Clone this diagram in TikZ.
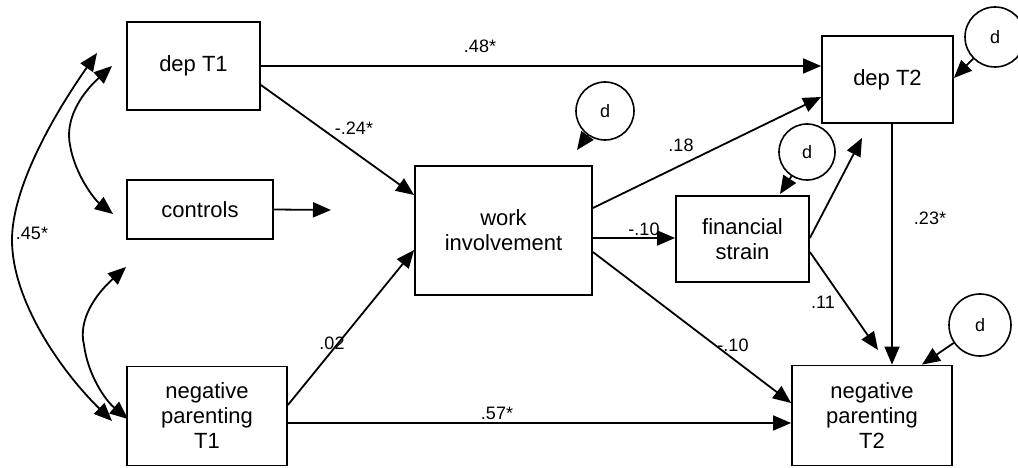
\documentclass[tikz,border=0pt]{standalone}
\usepackage{fontspec}
\setmainfont{Liberation Sans}
\usetikzlibrary{arrows.meta,calc}
\begin{document}
\begin{tikzpicture}[x=1pt,y=-1pt,
  box/.style={draw,line width=1.8pt,inner sep=0pt,align=center,
    font=\fontsize{22}{25}\selectfont},
  dcirc/.style={draw,circle,line width=1.6pt,inner sep=0pt,
    font=\fontsize{18}{18}\selectfont},
  lab/.style={font=\fontsize{18}{20}\selectfont,inner sep=0pt},
  arr/.style={line width=1.8pt,-{Triangle[length=18pt,width=15pt]}},
  darr/.style={line width=1.8pt,{Triangle[length=18pt,width=15pt]}-{Triangle[length=18pt,width=15pt]}}
]
\useasboundingbox (0,0) rectangle (1018,468);
% boxes
\node[box,minimum width=133pt,minimum height=88pt] (depT1) at (193.5,66) {dep T1};
\node[box,minimum width=146pt,minimum height=59pt] (controls) at (200,209.5) {controls};
\node[box,minimum width=160pt,minimum height=99pt] (negT1) at (207,416) {negative\\parenting\\T1};
\node[box,minimum width=177pt,minimum height=129pt] (work) at (503.5,230.5) {work\\involvement};
\node[box,minimum width=133pt,minimum height=86pt] (fin) at (742.5,239) {financial\\strain};
\node[box,minimum width=131pt,minimum height=87pt] (depT2) at (887.5,79.5) {dep T2};
\node[box,minimum width=160pt,minimum height=100pt] (negT2) at (872,415.5) {negative\\parenting\\T2};
% disturbance circles
\node[dcirc,minimum size=58pt] (dW) at (605,111) {d};
\node[dcirc,minimum size=56pt] (dF) at (807,152) {d};
\node[dcirc,minimum size=60pt] (dD) at (995,37) {d};
\node[dcirc,minimum size=62pt] (dN) at (980,325) {d};
% free ends
\coordinate (cw) at (577,150);
\coordinate (cf) at (780,194);
\coordinate (cctl) at (331,210);
\coordinate (fd) at (862,138);
\coordinate (fn) at (878,350);
\coordinate (a1) at (97,53);
\coordinate (a2) at (112,421);
\coordinate (b1) at (112,66);
\coordinate (b2) at (113,214);
\coordinate (c1) at (126,267);
\coordinate (c2) at (128,419);
% paths
\draw[arr] (depT1.east) -- (depT1.east -| depT2.west);
\draw[arr] ($(depT1.east)+(0,19)$) -- ($(work.west)+(0,-35.5)$);
\draw[arr] (controls.east) -- (cctl);
\draw[arr] ($(negT1.east)+(0,-11)$) -- ($(work.west)+(0,19.5)$);
\draw[arr] ($(negT1.east)+(0,7)$) coordinate (n1) -- (n1 -| negT2.west);
\draw[arr] ($(work.east)+(0,-22.5)$) -- ($(depT2.west)+(0,17.5)$);
\draw[arr] ($(work.east)+(0,7.5)$) coordinate (w1) -- (w1 -| fin.west);
\draw[arr] ($(work.east)+(0,21.5)$) -- ($(negT2.west)+(0,-12.5)$);
\draw[arr] ($(fin.east)+(0,-1)$) -- (fd);
\draw[arr] ($(fin.east)+(0,13)$) -- (fn);
\draw[arr] ($(depT2.south)+(4.5,0)$) coordinate (dt) -- (dt |- negT2.north);
\draw[arr] (dW) -- (cw);
\draw[arr] (dF) -- (cf);
\draw[arr] (dD) -- ($(depT2.east)+(0,-1.5)$);
\draw[arr] (dN) -- ($(negT2.north)+(50,0)$);
% covariances
\draw[darr] (a1) .. controls (50,120) and (12,190) .. (12,240) .. controls (12,300) and (60,370) .. (a2);
\draw[darr] (b1) .. controls (80,95) and (65,120) .. (70,145) .. controls (75,175) and (95,200) .. (b2);
\draw[darr] (c1) .. controls (95,295) and (78,320) .. (84,345) .. controls (88,375) and (105,400) .. (c2);
% labels
\node[lab] (l48) at (480,46) {.48*};
\node[lab,fill=white,inner sep=1pt] (l24) at (354,128) {-.24*};
\node[lab] (l45) at (32,233) {.45*};
\node[lab] (l02) at (332,343) {.02};
\node[lab] (l57) at (497,413) {.57*};
\node[lab] (l18) at (681,145) {.18};
\node[lab] (l10a) at (644,229) {-.10};
\node[lab] (l11) at (823,302) {.11};
\node[lab] (l10b) at (733,345) {-.10};
\node[lab] (l23) at (930,218) {.23*};
\end{tikzpicture}
\end{document}
